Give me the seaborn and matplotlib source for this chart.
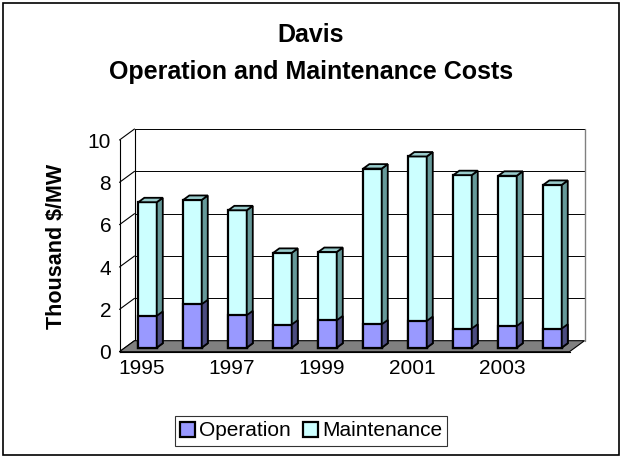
import matplotlib
matplotlib.use("Agg")
import matplotlib.pyplot as plt
import seaborn as sns
import pandas as pd
from matplotlib.patches import Polygon, Patch, Rectangle

years = ["1995", "1996", "1997", "1998", "1999", "2000", "2001", "2002", "2003", "2004"]
operation = [1.50, 2.05, 1.53, 1.09, 1.29, 1.10, 1.26, 0.90, 1.02, 0.90]
maintenance = [5.37, 4.93, 4.96, 3.39, 3.23, 7.36, 7.77, 7.25, 7.10, 6.79]
shown_labels = ["1995", "", "1997", "", "1999", "", "2001", "", "2003", ""]
yticks = [0, 2, 4, 6, 8, 10]

total = [o + m for o, m in zip(operation, maintenance)]
df = pd.DataFrame({"year": years, "operation": operation, "total": total})

sns.set_style("white")
plt.rcParams["font.family"] = ["Liberation Sans", "DejaVu Sans"]
plt.rcParams["text.color"] = "black"
plt.rcParams["axes.labelcolor"] = "black"
plt.rcParams["xtick.color"] = "black"
plt.rcParams["ytick.color"] = "black"

W, H = 621, 457
fig = plt.figure(figsize=(W / 100, H / 100), dpi=100)
ax = fig.add_axes([119.5 / W, (H - 351.7) / H, 450 / W, 211.7 / H])
ax.set_xlim(-0.5, 9.5)
ax.set_ylim(0, 10)
ax.patch.set_alpha(0)

# pixel -> data conversions
px_x = 10 / 450.0
px_y = 10 / 211.7
DX, DY = 15 * px_x, 11 * px_y          # full depth offset
SX, SY = 0.37 * DX, 0.37 * DY          # bar front shift
BX, BY = 0.4 * DX, 0.4 * DY            # bar depth

op_c, op_side = "#9999FF", "#4C4C80"
mt_c, mt_side, mt_top = "#CCFFFF", "#669999", "#99CCCC"

# floor
floor = Polygon([(-0.5, 0), (9.5, 0), (9.5 + DX, DY), (-0.5 + DX, DY)], closed=True,
                facecolor="#808080", edgecolor="black", lw=0.8, zorder=1, clip_on=False)
ax.add_patch(floor)

# back wall gridlines & walls
for k in yticks[1:]:
    ax.plot([-0.5 + DX, 9.5 + DX], [k + DY, k + DY], color="black", lw=0.7, zorder=0.5, clip_on=False)
for k in yticks:
    ax.plot([-0.5, -0.5 + DX], [k, k + DY], color="black", lw=0.8, zorder=0.5, clip_on=False)
ax.plot([-0.5 + DX, -0.5 + DX], [DY, 10 + DY], color="black", lw=0.8, zorder=0.5, clip_on=False)
ax.plot([9.5 + DX, 9.5 + DX], [DY, 10 + DY], color="#808080", lw=1.0, zorder=0.5, clip_on=False)

sns.barplot(data=df, x="year", y="total", color=mt_c, saturation=1, width=0.41,
            edgecolor="black", linewidth=1.6, ax=ax, zorder=3)
sns.barplot(data=df, x="year", y="operation", color=op_c, saturation=1, width=0.41,
            edgecolor="black", linewidth=1.6, ax=ax, zorder=4)

n = len(years)
for i, p in enumerate(ax.patches[-2 * n:]):
    p.set_x(p.get_x() + SX)
    p.set_y(p.get_y() + SY)
    p.set_clip_on(False)
    x0, y0, w, h = p.get_x(), p.get_y(), p.get_width(), p.get_height()
    x1, y1 = x0 + w, y0 + h
    is_total = i < n
    side_c = mt_side if is_total else op_side
    side = Polygon([(x1, y0), (x1 + BX, y0 + BY), (x1 + BX, y1 + BY), (x1, y1)], closed=True,
                   facecolor=side_c, edgecolor="black", lw=1.3, zorder=p.get_zorder(), clip_on=False)
    ax.add_patch(side)
    if is_total:
        top = Polygon([(x0, y1), (x0 + BX, y1 + BY), (x1 + BX, y1 + BY), (x1, y1)], closed=True,
                      facecolor=mt_top, edgecolor="black", lw=1.3, zorder=p.get_zorder(), clip_on=False)
        ax.add_patch(top)

# front axes
for s in ["top", "right"]:
    ax.spines[s].set_visible(False)
ax.spines["left"].set_color("black")
ax.spines["bottom"].set_color("black")
ax.spines["left"].set_linewidth(0.8)
ax.spines["bottom"].set_linewidth(0.8)
ax.set_yticks(yticks)
ax.set_yticklabels([str(v) for v in yticks], fontsize=15)
ax.set_xticks([i - 0.5 for i in range(n + 1)])
ax.set_xticklabels([""] * (n + 1))
ax.set_xticks(range(n), minor=True)
ax.set_xticklabels(shown_labels, minor=True, fontsize=15)
ax.tick_params(axis="x", which="minor", length=0, pad=5, labelcolor="black")
ax.tick_params(axis="x", which="major", length=5, width=0.8, color="black", direction="out")
ax.tick_params(axis="y", length=4, width=0.8, color="black", direction="out", pad=2,
               labelcolor="black")
ax.set_xlabel("")
ax.set_ylabel("")
fig.text(57 / W, 1 - 246 / H, "Thousand $/MW", rotation=90, ha="center", va="center",
         fontsize=15.5, fontweight="bold", color="black")

fig.text(311 / W, 1 - 35 / H, "Davis", ha="center", va="center",
         fontsize=18, fontweight="bold", color="black")
fig.text(311 / W, 1 - 72 / H, "Operation and Maintenance Costs", ha="center", va="center",
         fontsize=18, fontweight="bold", color="black")

handles = [Patch(facecolor=op_c, edgecolor="black", lw=1.6, label="Operation"),
           Patch(facecolor=mt_c, edgecolor="black", lw=1.6, label="Maintenance")]
leg = fig.legend(handles=handles, loc="center", bbox_to_anchor=(311 / W, 1 - 431 / H),
                 ncol=2, fontsize=15, frameon=True, fancybox=False, handlelength=0.7,
                 handleheight=0.7, handletextpad=0.2, columnspacing=0.6, borderpad=0.25,
                 labelcolor="black")
leg.get_frame().set_edgecolor("black")
leg.get_frame().set_linewidth(0.8)

fig.patches.append(Rectangle((3 / W, 2 / H), 616 / W, 452 / H, transform=fig.transFigure,
                             fill=False, edgecolor="black", lw=1.2))

fig.savefig("out.png", dpi=100)
